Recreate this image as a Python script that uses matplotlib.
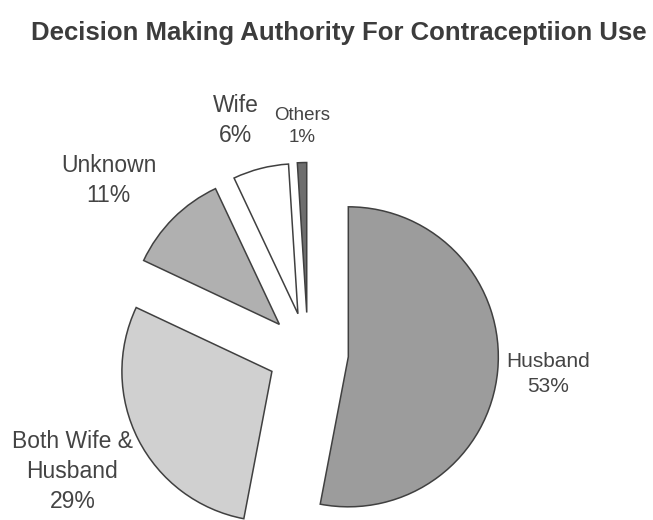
import matplotlib
matplotlib.use("Agg")
import matplotlib.pyplot as plt

# ---- data ----
labels = ["Husband", "Both Wife &\nHusband", "Unknown", "Wife", "Others"]
shares = [53, 29, 11, 6, 1]
colors = ["#9c9c9c", "#d0d0d0", "#b0b0b0", "#ffffff", "#6e6e6e"]

plt.rcParams["font.family"] = ["Liberation Sans", "DejaVu Sans"]
txt_color = "#444444"

fig = plt.figure(figsize=(6.53, 5.2), dpi=100)
ax = fig.add_axes([0, 0, 1, 1])

ax.pie(shares, explode=[0.27] * len(shares), startangle=90, counterclock=False,
       colors=colors, radius=1, center=(0, 0), frame=True,
       wedgeprops=dict(edgecolor="#404040", linewidth=1.1))

# pixel -> data: pie centre at (308, 353) px, radius 150 px
ax.set_xlim(-308 / 150, (653 - 308) / 150)
ax.set_ylim(-(520 - 353) / 150, 353 / 150)
ax.axis("off")

# label positions (data coords)
label_pos = [(1.60, -0.14), (-1.57, -0.79), (-1.33, 1.15), (-0.48, 1.55), (-0.04, 1.51)]
label_size = [15, 16.5, 16.5, 16.5, 13.5]
for lab, v, (x, y), fs in zip(labels, shares, label_pos, label_size):
    ax.text(x, y, f"{lab}\n{v}%", ha="center", va="center", fontsize=fs,
            color=txt_color, linespacing=1.4)

fig.text(339 / 653, 1 - 33 / 520, "Decision Making Authority For Contraceptiion Use",
         ha="center", va="center", fontsize=18.5, fontweight="bold", color="#3c3c3c")

fig.savefig("out.png", dpi=100, facecolor="white")
